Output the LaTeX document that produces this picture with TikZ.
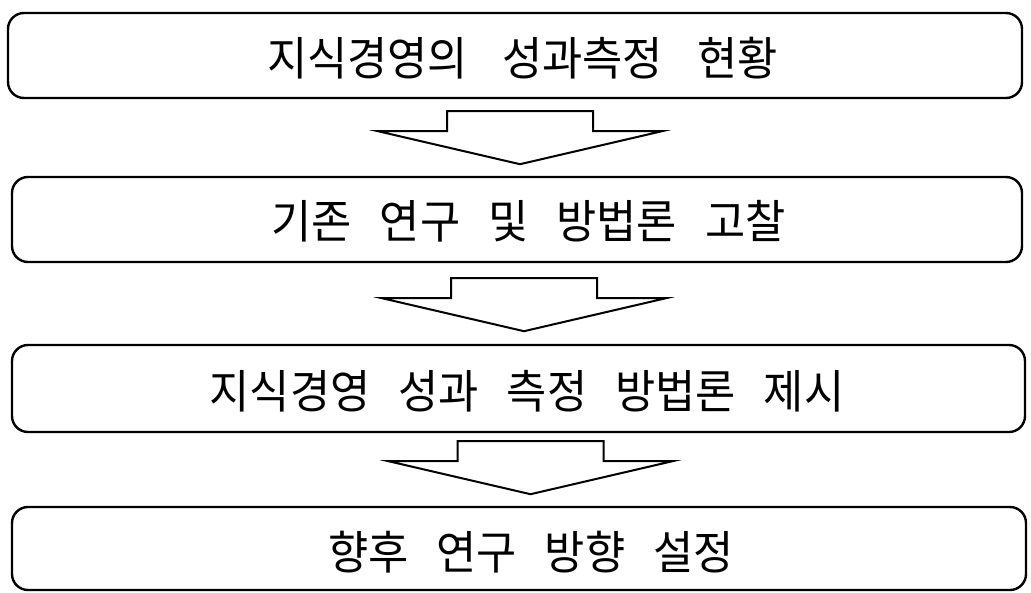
\documentclass[tikz,border=0pt]{standalone}
\usepackage{fontspec}
\newfontfamily\kr{Noto Sans CJK KR}
\usetikzlibrary{calc}
\newcommand\wg{\hspace{29.5pt}}
\newcommand\wgw{\hspace{36pt}}
\newcommand\boxtext[3]{\hspace*{#1}\raisebox{#2}[\height][\depth]{\scalebox{0.95}[1]{#3}}}
\begin{document}
\begin{tikzpicture}[x=1pt,y=-1pt,
  stepbox/.style={draw=black,line width=2.4pt,rounded corners=16pt,inner sep=0pt,font=\kr\fontsize{46}{50}\selectfont},
  arrowline/.style={draw=black,line width=2pt,fill=white,line join=miter},
  down arrow/.pic={\path[arrowline] (-73,0) -- (-73,20) -- (-142,20) -- (0,53) -- (142,20) -- (73,20) -- (73,0) -- cycle;}
]
\useasboundingbox[fill=white] (0,0) rectangle (1031,592);
\node[stepbox,minimum width=1014pt,minimum height=85pt] (b1) at (515,55.5) {\boxtext{15pt}{-3pt}{지식경영의\wgw 성과측정\wgw 현황}};
\node[stepbox,minimum width=1010pt,minimum height=85pt] (b2) at (517,219.5) {\boxtext{23pt}{-2pt}{기존\wg 연구\wg 및\wg 방법론\wg 고찰}};
\node[stepbox,minimum width=1013pt,minimum height=87pt] (b3) at (518.5,388.5) {\boxtext{17pt}{-3pt}{지식경영\wg 성과\wg 측정\wg 방법론\wg 제시}};
\node[stepbox,minimum width=1014pt,minimum height=83pt] (b4) at (519,548.5) {\boxtext{24pt}{-4pt}{향후\wg 연구\wg 방향\wg 설정}};
\pic at ($(b1.south)+(5,12)$) {down arrow};
\pic at ($(b2.south)+(7,15)$) {down arrow};
\pic at ($(b3.south)+(12,8)$) {down arrow};
\end{tikzpicture}
\end{document}
